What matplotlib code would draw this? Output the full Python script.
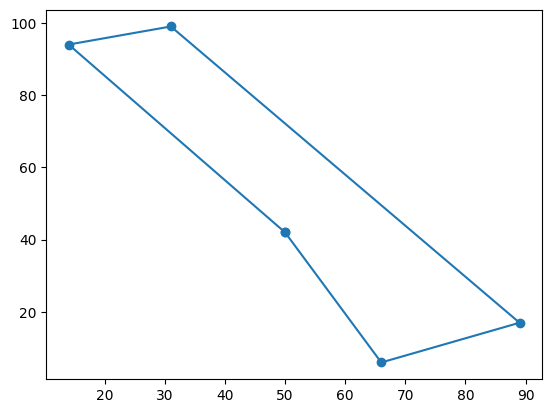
import matplotlib
matplotlib.use("Agg")
import matplotlib.pyplot as plt

x = [50, 66, 89, 31, 14, 50]
y = [42, 6, 17, 99, 94, 42]

fig, ax = plt.subplots()
ax.plot(x, y, marker="o")
fig.savefig("out.png", bbox_inches="tight")
